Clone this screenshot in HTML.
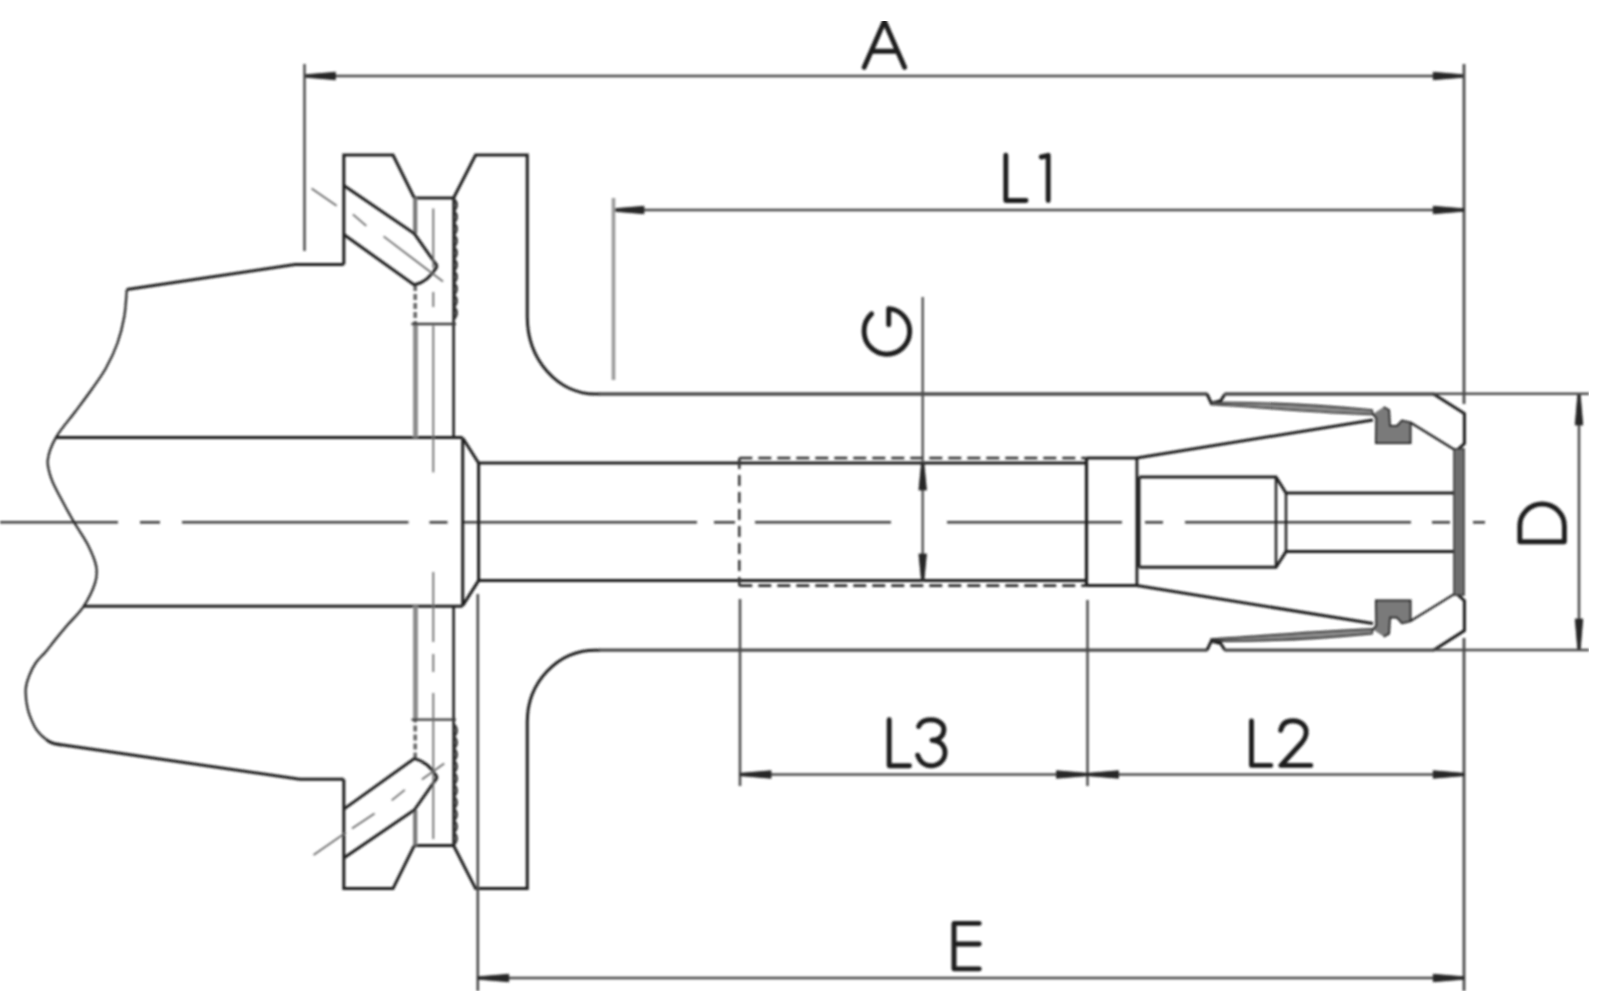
<!DOCTYPE html>
<html><head><meta charset="utf-8"><title>Drawing</title>
<style>html,body{margin:0;padding:0;background:#fff;width:1600px;height:991px;overflow:hidden;font-family:"Liberation Sans",sans-serif;}
svg{display:block}</style></head>
<body><svg width="1600" height="991" viewBox="0 0 1600 991">
<rect width="1600" height="991" fill="#ffffff"/>
<g stroke-linecap="butt" filter="url(#b)">
<line x1="0" y1="522.3" x2="118" y2="522.3" stroke="#3e3e3e" stroke-width="2.6" />
<line x1="140" y1="522.3" x2="160" y2="522.3" stroke="#3e3e3e" stroke-width="2.6" />
<line x1="182" y1="522.3" x2="408.5" y2="522.3" stroke="#3e3e3e" stroke-width="2.6" />
<line x1="429.5" y1="522.3" x2="447.5" y2="522.3" stroke="#3e3e3e" stroke-width="2.6" />
<line x1="463" y1="522.3" x2="697" y2="522.3" stroke="#3e3e3e" stroke-width="2.6" />
<line x1="714" y1="522.3" x2="735" y2="522.3" stroke="#3e3e3e" stroke-width="2.6" />
<line x1="755" y1="522.3" x2="891" y2="522.3" stroke="#3e3e3e" stroke-width="2.6" />
<line x1="947" y1="522.3" x2="1122" y2="522.3" stroke="#3e3e3e" stroke-width="2.6" />
<line x1="1145" y1="522.3" x2="1163" y2="522.3" stroke="#3e3e3e" stroke-width="2.6" />
<line x1="1185" y1="522.3" x2="1411" y2="522.3" stroke="#3e3e3e" stroke-width="2.6" />
<line x1="1432" y1="522.3" x2="1450" y2="522.3" stroke="#3e3e3e" stroke-width="2.6" />
<line x1="1473" y1="522.3" x2="1485" y2="522.3" stroke="#3e3e3e" stroke-width="2.6" />
<path d="M126.8,289.6 C126.38,294.08 125.85,307.60 124.3,316.5 C122.75,325.40 120.55,334.42 117.5,343 C114.45,351.58 110.25,360.33 106,368 C101.75,375.67 97.17,381.67 92,389 C86.83,396.33 80.95,404.02 75,412 C69.05,419.98 60.83,428.93 56.3,436.9 C51.77,444.87 48.60,452.75 47.8,459.8 C47.00,466.85 49.08,472.33 51.5,479.2 C53.92,486.07 58.48,493.73 62.3,501 C66.12,508.27 70.17,515.55 74.4,522.8 C78.63,530.05 84.07,537.25 87.7,544.5 C91.33,551.75 94.98,559.85 96.2,566.3 C97.42,572.75 97.08,576.53 95,583.2 C92.92,589.87 88.43,599.17 83.7,606.3 C78.97,613.43 71.38,620.38 66.6,626 C61.82,631.62 58.52,635.67 55,640 C51.48,644.33 48.67,648.25 45.5,652 C42.33,655.75 38.67,658.67 36,662.5 C33.33,666.33 31.20,670.67 29.5,675 C27.80,679.33 26.13,683.00 25.8,688.5 C25.47,694.00 26.05,701.67 27.5,708 C28.95,714.33 32.25,722.00 34.5,726.5 C36.75,731.00 39.08,732.88 41,735 C42.92,737.12 45.17,738.50 46,739.2" stroke="#1f1f1f" stroke-width="2.2" fill="none" />
<path d="M126.8,289.6 L295,264.4 L343.8,264.4" stroke="#1f1f1f" stroke-width="3.0" fill="none" />
<path d="M46,739.2 C50,743.2 55,744 63,745 L300,779.3 L343.8,779.3" stroke="#1f1f1f" stroke-width="3.0" fill="none" />
<line x1="56.3" y1="437.6" x2="462.7" y2="437.6" stroke="#1f1f1f" stroke-width="3.0" />
<line x1="83.7" y1="606.3" x2="462.7" y2="606.3" stroke="#1f1f1f" stroke-width="3.0" />
<path d="M343.8,264.4 L343.8,155 L393,155 L414.3,198 L453.6,198 L475.6,155 L527.3,155 L527.3,317 A68,77 0 0 0 595.4,394 L600,394" stroke="#1f1f1f" stroke-width="3.0" fill="none" />
<line x1="599" y1="394" x2="1207.5" y2="394" stroke="#4a4a4a" stroke-width="3.3" />
<path d="M1207,394 L1211.3,403.2 L1220.8,400.6 L1225,394" stroke="#1f1f1f" stroke-width="3.0" fill="none" />
<line x1="1224.5" y1="394" x2="1434" y2="394" stroke="#4a4a4a" stroke-width="3.3" />
<path d="M1433.5,394 L1464.4,413.6 L1464.4,443.6 L1456.3,450.8" stroke="#1f1f1f" stroke-width="3.0" fill="none" />
<path d="M343.8,779.2 L343.8,888.6 L393,888.6 L414.3,845.6 L453.6,845.6 L475.6,888.6 L527.3,888.6 L527.3,722 A68,71.4 0 0 1 595.4,650.2 L600,650.2" stroke="#1f1f1f" stroke-width="3.0" fill="none" />
<line x1="599" y1="650.2" x2="1207.5" y2="650.2" stroke="#4a4a4a" stroke-width="3.3" />
<path d="M1207,650.2 L1211.3,641.0 L1220.8,643.6 L1225,650.2" stroke="#1f1f1f" stroke-width="3.0" fill="none" />
<line x1="1224.5" y1="650.2" x2="1434" y2="650.2" stroke="#4a4a4a" stroke-width="3.3" />
<path d="M1433.5,650.2 L1464.4,630.6 L1464.4,600.6 L1456.3,593.4" stroke="#1f1f1f" stroke-width="3.0" fill="none" />
<line x1="415.2" y1="198" x2="415.2" y2="233.6" stroke="#777" stroke-width="4.2" />
<line x1="415.2" y1="285" x2="415.2" y2="324" stroke="#666" stroke-width="3.6" stroke-dasharray="6,3"/>
<line x1="415.5" y1="324" x2="415.5" y2="437.6" stroke="#8a8a8a" stroke-width="4.8" />
<line x1="453.6" y1="198" x2="453.6" y2="438" stroke="#1f1f1f" stroke-width="2.6" />
<path d="M454.3,199 Q459.3,205 454.3,211 Q459.3,217 454.3,223 Q459.3,229 454.3,235 Q459.3,241 454.3,247 Q459.3,253 454.3,259 Q459.3,265 454.3,271 Q459.3,277 454.3,283 Q459.3,289 454.3,295 Q459.3,301 454.3,307 Q459.3,313 454.3,319" stroke="#333" stroke-width="2.4" fill="none" />
<line x1="411.5" y1="324" x2="456" y2="324" stroke="#3a3a3a" stroke-width="2.4" />
<path d="M343.8,185.6 L414.3,233.6 L437.3,266.2" stroke="#1f1f1f" stroke-width="3.0" fill="none" />
<path d="M343.8,234.5 L414.3,285 Q428,282 437.3,266.2" stroke="#1f1f1f" stroke-width="3.0" fill="none" />
<line x1="311.6" y1="188.5" x2="336.6" y2="205.8" stroke="#6a6a6a" stroke-width="1.8" />
<line x1="352.9" y1="214.4" x2="366.3" y2="225.9" stroke="#6a6a6a" stroke-width="1.8" />
<line x1="383.6" y1="236.4" x2="443" y2="281.5" stroke="#6a6a6a" stroke-width="1.8" />
<path d="M462.7,438 L478.6,463 L1086.5,463" stroke="#1f1f1f" stroke-width="3.0" fill="none" />
<line x1="739.3" y1="458" x2="1086.5" y2="458" stroke="#2e2e2e" stroke-width="2.6" stroke-dasharray="13,6"/>
<path d="M1086.5,458 L1136.7,458 L1373,420" stroke="#1f1f1f" stroke-width="3.0" fill="none" />
<path d="M1373,414 L1376.3,418 L1376,443 L1410.5,443 L1410.5,422.5 L1402,420.5 L1397,426 L1390,426 L1389,410 L1383.6,407" stroke="#1f1f1f" stroke-width="2.0" fill="#7a7a7a" />
<line x1="1410.8" y1="422.7" x2="1455" y2="450" stroke="#1f1f1f" stroke-width="2.2" />
<path d="M1211.3,402.5 C1260,402 1320,405 1372,410 L1373,414.5 C1320,413 1260,407 1211.3,404.5 Z" stroke="#1f1f1f" stroke-width="1.6" fill="#8a8a8a" />
<line x1="415.2" y1="845.6" x2="415.2" y2="810.0" stroke="#777" stroke-width="4.2" />
<line x1="415.2" y1="758.6" x2="415.2" y2="719.6" stroke="#666" stroke-width="3.6" stroke-dasharray="6,3"/>
<line x1="415.5" y1="719.6" x2="415.5" y2="606.0" stroke="#8a8a8a" stroke-width="4.8" />
<line x1="453.6" y1="845.6" x2="453.6" y2="605.6" stroke="#1f1f1f" stroke-width="2.6" />
<path d="M454.3,844.6 Q459.3,838.6 454.3,832.6 Q459.3,826.6 454.3,820.6 Q459.3,814.6 454.3,808.6 Q459.3,802.6 454.3,796.6 Q459.3,790.6 454.3,784.6 Q459.3,778.6 454.3,772.6 Q459.3,766.6 454.3,760.6 Q459.3,754.6 454.3,748.6 Q459.3,742.6 454.3,736.6 Q459.3,730.6 454.3,724.6" stroke="#333" stroke-width="2.4" fill="none" />
<line x1="411.5" y1="719.6" x2="456" y2="719.6" stroke="#3a3a3a" stroke-width="2.4" />
<path d="M343.8,858.0 L414.3,810.0 L437.3,777.4" stroke="#1f1f1f" stroke-width="3.0" fill="none" />
<path d="M343.8,809.1 L414.3,758.6 Q428,761.6 437.3,777.4" stroke="#1f1f1f" stroke-width="3.0" fill="none" />
<line x1="313.5" y1="855" x2="346" y2="832.5" stroke="#6a6a6a" stroke-width="1.8" />
<line x1="352" y1="828.5" x2="374.6" y2="813.5" stroke="#6a6a6a" stroke-width="1.8" />
<line x1="391.7" y1="800.4" x2="404.8" y2="789.9" stroke="#6a6a6a" stroke-width="1.8" />
<line x1="421.9" y1="779.4" x2="444.2" y2="763.6" stroke="#6a6a6a" stroke-width="1.8" />
<path d="M462.7,605.6 L478.6,580.6 L1086.5,580.6" stroke="#1f1f1f" stroke-width="3.0" fill="none" />
<line x1="739.3" y1="585.6" x2="1086.5" y2="585.6" stroke="#2e2e2e" stroke-width="2.6" stroke-dasharray="13,6"/>
<path d="M1086.5,585.6 L1136.7,585.6 L1373,623.6" stroke="#1f1f1f" stroke-width="3.0" fill="none" />
<path d="M1373,629.6 L1376.3,625.6 L1376,600.6 L1410.5,600.6 L1410.5,621.1 L1402,623.1 L1397,617.6 L1390,617.6 L1389,633.6 L1383.6,636.6" stroke="#1f1f1f" stroke-width="2.0" fill="#7a7a7a" />
<line x1="1410.8" y1="620.9" x2="1455" y2="593.6" stroke="#1f1f1f" stroke-width="2.2" />
<path d="M1211.3,641.1 C1260,641.6 1320,638.6 1372,633.6 L1373,629.1 C1320,630.6 1260,636.6 1211.3,639.1 Z" stroke="#1f1f1f" stroke-width="1.6" fill="#8a8a8a" />
<line x1="433.3" y1="208.5" x2="433.3" y2="268" stroke="#6a6a6a" stroke-width="1.8" />
<line x1="433.3" y1="292" x2="433.3" y2="307" stroke="#6a6a6a" stroke-width="1.8" />
<line x1="433.3" y1="325.5" x2="433.3" y2="472.4" stroke="#6a6a6a" stroke-width="1.8" />
<line x1="433.3" y1="572" x2="433.3" y2="642" stroke="#6a6a6a" stroke-width="1.8" />
<line x1="433.3" y1="654" x2="433.3" y2="672" stroke="#6a6a6a" stroke-width="1.8" />
<line x1="433.3" y1="693" x2="433.3" y2="839" stroke="#6a6a6a" stroke-width="1.8" />
<line x1="462.7" y1="438" x2="462.7" y2="606" stroke="#1f1f1f" stroke-width="3.0" />
<line x1="478.6" y1="463" x2="478.6" y2="581" stroke="#1f1f1f" stroke-width="3.0" />
<line x1="739.3" y1="458" x2="739.3" y2="586" stroke="#333" stroke-width="2.5" stroke-dasharray="11,6"/>
<line x1="1086.5" y1="458" x2="1086.5" y2="586" stroke="#1f1f1f" stroke-width="3.2" />
<line x1="1136.9" y1="458" x2="1136.9" y2="585.6" stroke="#1f1f1f" stroke-width="2.8" />
<line x1="1139.3" y1="477" x2="1139.3" y2="567.3" stroke="#1f1f1f" stroke-width="2.4" />
<path d="M1139.3,477 L1276,477 L1286,493 L1454,493" stroke="#1f1f1f" stroke-width="3.0" fill="none" />
<path d="M1139.3,567.3 L1276,567.3 L1286,551.6 L1454,551.6" stroke="#1f1f1f" stroke-width="3.0" fill="none" />
<line x1="1276" y1="477" x2="1276" y2="567.3" stroke="#1f1f1f" stroke-width="2.4" />
<line x1="1286" y1="493" x2="1286" y2="551.6" stroke="#1f1f1f" stroke-width="2.4" />
<rect x="1454" y="449" width="10" height="146" fill="#6e6e6e" stroke="#333" stroke-width="1.6"/>
<line x1="304.5" y1="76" x2="1464.2" y2="76" stroke="#4a4a4a" stroke-width="2.5" />
<path d="M304.5,74.8 L335.5,72.2 L335.5,79.8 L304.5,77.2 Z" fill="#262626" stroke="#262626" stroke-width="0.8"/>
<path d="M1464.2,74.8 L1433.2,72.2 L1433.2,79.8 L1464.2,77.2 Z" fill="#262626" stroke="#262626" stroke-width="0.8"/>
<line x1="304.5" y1="64" x2="304.5" y2="251" stroke="#4a4a4a" stroke-width="2.5" />
<line x1="1464" y1="64" x2="1464" y2="404" stroke="#4a4a4a" stroke-width="2.8" />
<line x1="1464" y1="638" x2="1464" y2="991" stroke="#4a4a4a" stroke-width="2.8" />
<line x1="613" y1="210" x2="1464.2" y2="210" stroke="#4a4a4a" stroke-width="2.5" />
<path d="M613,208.8 L644,206.2 L644,213.8 L613,211.2 Z" fill="#262626" stroke="#262626" stroke-width="0.8"/>
<path d="M1464.2,208.8 L1433.2,206.2 L1433.2,213.8 L1464.2,211.2 Z" fill="#262626" stroke="#262626" stroke-width="0.8"/>
<line x1="613.5" y1="198" x2="613.5" y2="380" stroke="#9a9a9a" stroke-width="3.6" />
<line x1="922.7" y1="297" x2="922.7" y2="582" stroke="#4a4a4a" stroke-width="2.3" />
<path d="M921.5,463 L918.9000000000001,490 L926.5,490 L923.9000000000001,463 Z" fill="#262626" stroke="#262626" stroke-width="0.8"/>
<path d="M921.5,581 L918.9000000000001,554 L926.5,554 L923.9000000000001,581 Z" fill="#262626" stroke="#262626" stroke-width="0.8"/>
<line x1="1579" y1="394" x2="1579" y2="650" stroke="#4a4a4a" stroke-width="2.5" />
<path d="M1577.8,394 L1575.2,425 L1582.8,425 L1580.2,394 Z" fill="#262626" stroke="#262626" stroke-width="0.8"/>
<path d="M1577.8,650 L1575.2,619 L1582.8,619 L1580.2,650 Z" fill="#262626" stroke="#262626" stroke-width="0.8"/>
<line x1="1433.5" y1="393.8" x2="1589" y2="393.8" stroke="#4a4a4a" stroke-width="2.5" />
<line x1="1433.5" y1="650" x2="1589" y2="650" stroke="#4a4a4a" stroke-width="2.5" />
<line x1="740" y1="599" x2="740" y2="786" stroke="#4a4a4a" stroke-width="2.5" />
<line x1="1087.5" y1="600" x2="1087.5" y2="786" stroke="#4a4a4a" stroke-width="2.5" />
<line x1="740" y1="774.5" x2="1464.2" y2="774.5" stroke="#4a4a4a" stroke-width="2.5" />
<path d="M740,773.3 L771,770.7 L771,778.3 L740,775.7 Z" fill="#262626" stroke="#262626" stroke-width="0.8"/>
<path d="M1087.5,773.3 L1056.5,770.7 L1056.5,778.3 L1087.5,775.7 Z" fill="#262626" stroke="#262626" stroke-width="0.8"/>
<path d="M1087.5,773.3 L1118.5,770.7 L1118.5,778.3 L1087.5,775.7 Z" fill="#262626" stroke="#262626" stroke-width="0.8"/>
<path d="M1464.2,773.3 L1433.2,770.7 L1433.2,778.3 L1464.2,775.7 Z" fill="#262626" stroke="#262626" stroke-width="0.8"/>
<line x1="477.8" y1="594" x2="477.8" y2="991" stroke="#4a4a4a" stroke-width="2.6" />
<line x1="477.8" y1="978" x2="1464.2" y2="978" stroke="#4a4a4a" stroke-width="2.5" />
<path d="M477.8,976.8 L508.8,974.2 L508.8,981.8 L477.8,979.2 Z" fill="#262626" stroke="#262626" stroke-width="0.8"/>
<path d="M1464.2,976.8 L1433.2,974.2 L1433.2,981.8 L1464.2,979.2 Z" fill="#262626" stroke="#262626" stroke-width="0.8"/>
<path d="M864.2,67.3 L884.4,21.3 L904.6,67.3 M871.5,51.2 L897.5,51.2" stroke="#1c1c1c" stroke-width="4.9" fill="none" stroke-linecap="round" stroke-linejoin="round"/>
<path d="M1005.8,155.3 L1005.8,200.5 L1026,200.5 M1041.3,157 L1048.2,155.3 L1048.2,200.5" stroke="#1c1c1c" stroke-width="4.9" fill="none" stroke-linecap="round" stroke-linejoin="round"/>
<path d="M888.7,308.67 A22.8,22.8 0 1 1 864.1,331.4 A22.8,22.8 0 0 1 871.6,313.9 M888.7,308.67 L888.7,324.7" stroke="#1c1c1c" stroke-width="4.9" fill="none" stroke-linecap="round" stroke-linejoin="round"/>
<path d="M1519.8,541.7 L1564.4,541.7 L1564.4,526 A22.3,22 0 0 0 1519.8,526 Z" stroke="#1c1c1c" stroke-width="4.9" fill="none" stroke-linecap="round" stroke-linejoin="round"/>
<path d="M889.2,719.8 L889.2,765.7 L909.5,765.7" stroke="#1c1c1c" stroke-width="4.9" fill="none" stroke-linecap="round" stroke-linejoin="round"/>
<path d="M918.7,726.4 C920.5,722 925,719.8 931,719.8 C938,719.8 943.9,723.5 943.9,729.5 C943.9,736 939,740.2 932,740.2 C939.5,740.2 945,745.5 945,752.5 C945,760 939,765.7 931,765.7 C924,765.7 919.5,761 917.7,755.2" stroke="#1c1c1c" stroke-width="4.9" fill="none" stroke-linecap="round" stroke-linejoin="round"/>
<path d="M1251.5,721 L1251.5,765.4 L1270.8,765.4" stroke="#1c1c1c" stroke-width="4.9" fill="none" stroke-linecap="round" stroke-linejoin="round"/>
<path d="M1280.7,730.3 C1282,723.5 1287,720.8 1293,720.8 C1301,720.8 1306.2,726 1306.2,732 C1306.2,736 1304.5,739.5 1301.5,743 L1281,765.4 L1310.8,765.4" stroke="#1c1c1c" stroke-width="4.9" fill="none" stroke-linecap="round" stroke-linejoin="round"/>
<path d="M979.2,923.4 L954,923.4 L954,968.9 L979.2,968.9 M954,944 L979.2,944" stroke="#1c1c1c" stroke-width="4.9" fill="none" stroke-linecap="round" stroke-linejoin="round"/>
</g>
<defs><filter id="b" x="0" y="0" width="1" height="1"><feGaussianBlur stdDeviation="1.05"/></filter></defs>
</svg></body></html>
